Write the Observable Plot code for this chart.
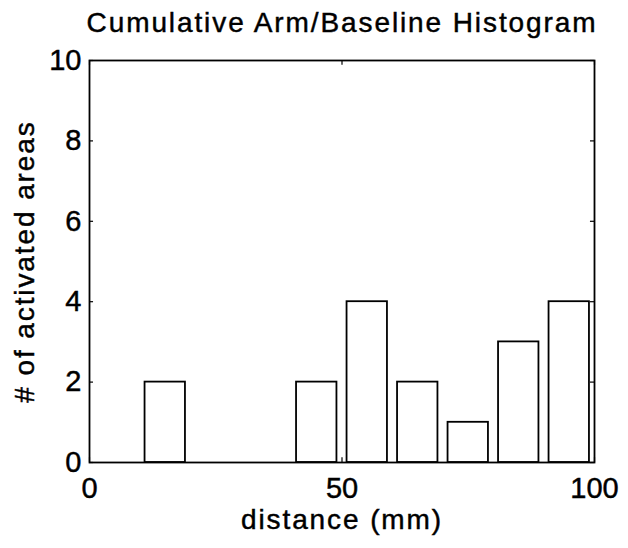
<!DOCTYPE html>
<html>
<head>
<meta charset="utf-8">
<script src="https://cdn.jsdelivr.net/npm/d3@7"></script>
<script src="https://cdn.jsdelivr.net/npm/@observablehq/plot@0.6"></script>
<style>
  html, body { margin: 0; padding: 0; background: #fff; }
  #chart svg { display: block; }
</style>
</head>
<body>
<div id="chart"></div>
<script>
// ---- data ----
const binCenters = [5, 15, 25, 35, 45, 55, 65, 75, 85, 95];
const counts     = [0, 2, 0, 0, 2, 4, 2, 1, 3, 4];
const xTicks = [0, 50, 100];
const yTicks = [0, 2, 4, 6, 8, 10];
const titleText = "Cumulative Arm/Baseline Histogram";
const xLabel = "distance (mm)";
const yLabel = "# of activated areas";

// ---- styling constants ----
const barWidth = 8;
const font = "'Liberation Sans', Arial, Helvetica, sans-serif";
const tickLenX = 0.12; // in y units
const tickLenY = 0.8;  // in x units

const bins = binCenters.map((c, i) => ({c, n: counts[i]}));

const chart = Plot.plot({
  width: 628,
  height: 548,
  marginTop: 60,
  marginRight: 34,
  marginBottom: 86,
  marginLeft: 89,
  style: {fontFamily: font, background: "#fff", color: "#000"},
  x: {domain: [0, 100], axis: null},
  y: {domain: [0, 10], axis: null},
  marks: [
    Plot.rectY(bins, {
      x1: d => d.c - barWidth / 2,
      x2: d => d.c + barWidth / 2,
      y: "n",
      fill: "white",
      stroke: "black",
      strokeWidth: 1.8
    }),
    Plot.frame({stroke: "black", strokeWidth: 1.8}),
    // inward ticks on all four sides
    Plot.ruleX(xTicks, {x: d => d, y1: 0, y2: tickLenX, stroke: "black", strokeWidth: 1.2}),
    Plot.ruleX(xTicks, {x: d => d, y1: 10, y2: 10 - tickLenX, stroke: "black", strokeWidth: 1.2}),
    Plot.ruleY(yTicks, {y: d => d, x1: 0, x2: tickLenY, stroke: "black", strokeWidth: 1.2}),
    Plot.ruleY(yTicks, {y: d => d, x1: 100, x2: 100 - tickLenY, stroke: "black", strokeWidth: 1.2}),
    Plot.axisX(xTicks, {tickSize: 0, tickPadding: 15, fontSize: 29, label: null, tickFormat: d => String(d)}),
    Plot.axisY(yTicks, {tickSize: 0, tickPadding: 8, fontSize: 29, label: null, tickFormat: d => String(d)}),
    Plot.text([titleText], {
      text: d => d, frameAnchor: "top", dy: -37, fontSize: 28,
      lineAnchor: "middle", fill: "black"
    }),
    Plot.text([xLabel], {
      text: d => d, frameAnchor: "bottom", dy: 58, fontSize: 28,
      lineAnchor: "middle", fill: "black"
    }),
    Plot.text([yLabel], {
      text: d => d, frameAnchor: "left", textAnchor: "middle", dx: -64, rotate: -90, fontSize: 28,
      lineAnchor: "middle", fill: "black"
    })
  ]
});

// letter spacing for the title and axis labels
chart.querySelectorAll("g[aria-label='text'] text").forEach(t => t.style.letterSpacing = "1.9px");
// slightly heavier text, like the printed original
chart.querySelectorAll("text").forEach(t => { t.style.stroke = "#000"; t.style.strokeWidth = "0.45px"; });

document.getElementById("chart").appendChild(chart);
</script>
</body>
</html>
